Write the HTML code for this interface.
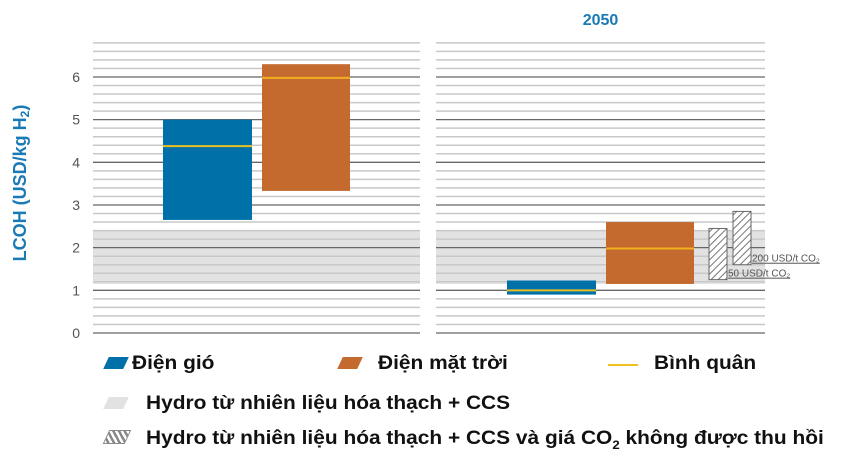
<!DOCTYPE html>
<html><head><meta charset="utf-8"><style>
body{margin:0;background:#fff;width:845px;height:461px;overflow:hidden;font-family:"Liberation Sans",sans-serif}
.lg{position:absolute;font-weight:bold;font-size:17px;color:#111;white-space:nowrap}
.tx{display:inline-block;font-size:19px;transform:scaleX(1.1);transform-origin:0 50%}
</style></head><body>
<svg id="c" width="845" height="461" style="position:absolute;left:0;top:0">
<defs><pattern id="hatch" width="5" height="5" patternUnits="userSpaceOnUse" patternTransform="rotate(45)"><rect width="5" height="5" fill="#fff"/><line x1="0" y1="0" x2="0" y2="5" stroke="#777" stroke-width="2"/></pattern></defs>
</svg>
<div class="lg" style="left:106px;top:353px"><span style="display:inline-block;width:20px;height:12px;background:#0070a8;transform:skewX(-25deg);margin-right:6px"></span><span class="tx">Điện gió</span></div>
<div class="lg" style="left:340px;top:353px"><span style="display:inline-block;width:20px;height:12px;background:#c46a2e;transform:skewX(-25deg);margin-right:18px"></span><span class="tx">Điện mặt trời</span></div>
<div class="lg" style="left:608px;top:353px"><span style="display:inline-block;width:30px;height:2px;background:#f0c020;vertical-align:middle;margin-right:16px"></span><span class="tx">Bình quân</span></div>
<div class="lg" style="left:106px;top:393px"><span style="display:inline-block;width:20px;height:12px;background:#e2e2e2;transform:skewX(-25deg);margin-right:20px"></span><span class="tx">Hydro từ nhiên liệu hóa thạch + CCS</span></div>
<div class="lg" style="left:106px;top:428px"><span style="display:inline-block;width:20px;height:12px;background:repeating-linear-gradient(45deg,#fff 0 2px,#888 2px 4px);border:1px solid #888;transform:skewX(-25deg);margin-right:18px"></span><span class="tx">Hydro từ nhiên liệu hóa thạch + CCS và giá CO<sub style="font-size:12px">2</sub> không được thu hồi</span></div>
<script>
const ticks=[0,1,2,3,4,5,6];
const panels=["","2050"];
const windLow=[2.65,0.9], windHigh=[5.0,1.23], windAvg=[4.38,1.0];
const solarLow=[3.33,1.15], solarHigh=[6.3,2.6], solarAvg=[5.98,1.98];
const ccsLow=[1.15,1.15], ccsHigh=[2.4,2.4];
const co2Low=[1.25,1.6], co2High=[2.45,2.85], co2Labels=["50 USD/t CO₂","200 USD/t CO₂"];
const svg=document.getElementById('c'),NS="http://www.w3.org/2000/svg";
const y=v=>333-v*42.67;
const px=[[93,420],[436,765]];
function el(t,a,n){const e=document.createElementNS(NS,t);for(const k in a)e.setAttribute(k,a[k]);


svg.appendChild(e);return e;}
px.forEach((p,i)=>{
 const w=p[1]-p[0];
 el('rect',{x:p[0],y:y(ccsHigh[i]),width:w,height:y(ccsLow[i])-y(ccsHigh[i]),fill:'#e2e2e2'},'ccs-band');
 for(let k=0;k<=34;k++){const v=k*0.2;const maj=k%5==0;
  el('line',{x1:p[0],x2:p[1],y1:y(v),y2:y(v),stroke:maj?'#666':'#c8c8c8','stroke-width':maj?1.3:1.5},maj?'major-grid':'minor-grid');}
 const t=el('text',{x:(p[0]+p[1])/2,y:25,'text-anchor':'middle','font-size':16,'font-weight':'bold',fill:'#1a7ab5'},'panel-title');t.textContent=panels[i];
 const bx=[[163,252],[262,350]];const off=i?344:0;
 el('rect',{x:bx[0][0]+off,y:y(windHigh[i]),width:89,height:y(windLow[i])-y(windHigh[i]),fill:'#0070a8'},'bar-wind');
 el('line',{x1:bx[0][0]+off,x2:bx[0][1]+off,y1:y(windAvg[i]),y2:y(windAvg[i]),stroke:'#e8c020','stroke-width':2},'avg-wind');
 el('rect',{x:bx[1][0]+off,y:y(solarHigh[i]),width:88,height:y(solarLow[i])-y(solarHigh[i]),fill:'#c46a2e'},'bar-solar');
 el('line',{x1:bx[1][0]+off,x2:bx[1][1]+off,y1:y(solarAvg[i]),y2:y(solarAvg[i]),stroke:'#f0b020','stroke-width':2},'avg-solar');
});
const hx=[709,733];
co2Low.forEach((l,j)=>{
 el('rect',{x:hx[j],y:y(co2High[j]),width:18,height:y(l)-y(co2High[j]),fill:'url(#hatch)',stroke:'#666','stroke-width':1},'bar-co2');
 const t=el('text',{x:hx[j]+19,y:y(l)-3,'font-size':10,fill:'#555','text-decoration':'underline'},'co2-label');t.textContent=co2Labels[j];
});
ticks.forEach(v=>{const t=el('text',{x:80,y:y(v)+5,'text-anchor':'end','font-size':14,fill:'#555'},'y-tick');t.textContent=v;});
const yt=el('text',{x:0,y:0,transform:'translate(26,183) rotate(-90)','text-anchor':'middle','font-size':18,'font-weight':'bold',fill:'#1a7ab5'},'y-axis-title');
yt.innerHTML='LCOH (USD/kg H<tspan font-size="12" dy="3">2</tspan><tspan dy="-3">)</tspan>';
</script>
</body></html>
